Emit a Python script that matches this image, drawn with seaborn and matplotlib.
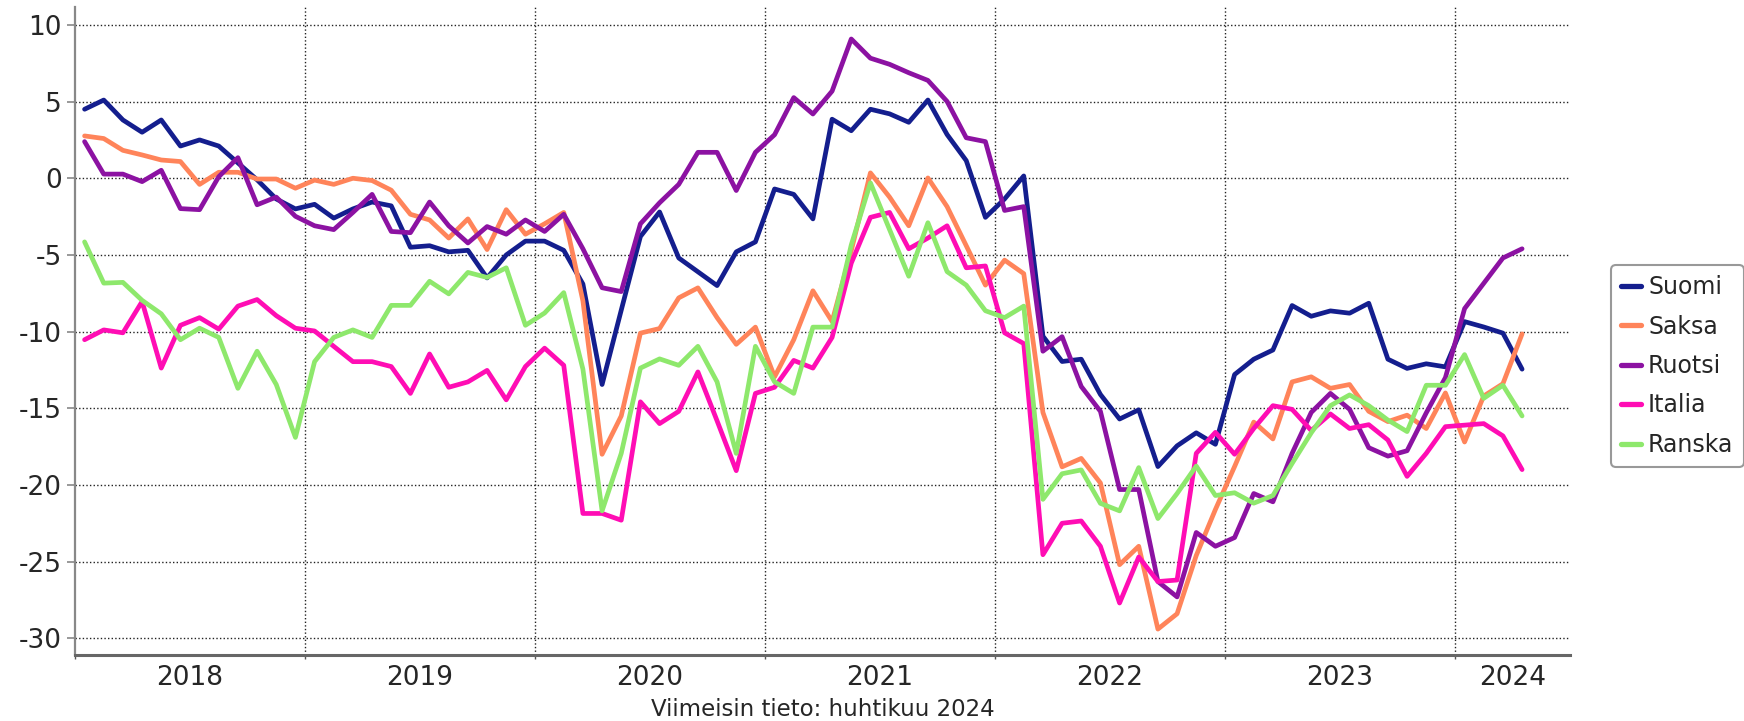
import numpy as np
import pandas as pd
import matplotlib
matplotlib.use("Agg")
import matplotlib.pyplot as plt
import seaborn as sns

# ---- data (monthly, Jan 2018 - Apr 2024) ----
start_month = "2018-01"
n_months = 76
countries = ["Suomi", "Saksa", "Ruotsi", "Italia", "Ranska"]

suomi = [4.5, 5.1, 3.8, 3.0, 3.8, 2.1, 2.5, 2.1, 1.0, -0.1, -1.35, -2.0,
         -1.7, -2.6, -2.0, -1.55, -1.8, -4.5, -4.4, -4.8, -4.7, -6.5, -5.0, -4.1,
         -4.1, -4.7, -6.9, -13.45, -8.6, -3.8, -2.2, -5.2, -6.1, -7.0, -4.8, -4.15,
         -0.7, -1.05, -2.65, 3.85, 3.1, 4.5, 4.2, 3.65, 5.1, 2.85, 1.15, -2.55,
         -1.35, 0.15, -10.3, -11.95, -11.8, -14.1, -15.7, -15.1, -18.8, -17.45, -16.6, -17.35,
         -12.8, -11.8, -11.2, -8.3, -9.0, -8.65, -8.8, -8.15, -11.8, -12.4, -12.1, -12.3,
         -9.35, -9.7, -10.1, -12.45]
saksa = [2.76, 2.59, 1.82, 1.52, 1.19, 1.09, -0.4, 0.39, 0.39, -0.05, -0.05, -0.65,
         -0.12, -0.4, 0.0, -0.15, -0.78, -2.35, -2.72, -3.9, -2.65, -4.65, -2.05, -3.65,
         -2.97, -2.23, -8.0, -18.0, -15.5, -10.1, -9.8, -7.8, -7.15, -9.09, -10.83, -9.71,
         -12.95, -10.53, -7.34, -9.34, -4.72, 0.35, -1.23, -3.1, 0.02, -1.85, -4.4, -6.97,
         -5.34, -6.22, -15.27, -18.82, -18.27, -19.87, -25.2, -24.0, -29.4, -28.4, -24.6, -21.6,
         -18.8, -15.9, -17.0, -13.28, -12.95, -13.7, -13.45, -15.2, -15.87, -15.45, -16.32, -14.0,
         -17.2, -14.2, -13.4, -10.15]
ruotsi = [2.39, 0.27, 0.27, -0.22, 0.52, -1.98, -2.05, 0.1, 1.34, -1.73, -1.23, -2.48,
          -3.1, -3.35, -2.23, -1.05, -3.47, -3.55, -1.55, -3.1, -4.22, -3.15, -3.65, -2.72,
          -3.47, -2.35, -4.6, -7.14, -7.39, -2.97, -1.6, -0.4, 1.69, 1.69, -0.8, 1.69,
          2.84, 5.26, 4.19, 5.68, 9.08, 7.83, 7.43, 6.88, 6.38, 5.01, 2.64, 2.39,
          -2.1, -1.85, -11.28, -10.33, -13.58, -15.2, -20.3, -20.3, -26.3, -27.3, -23.1, -24.0,
          -23.43, -20.56, -21.1, -17.94, -15.27, -14.03, -15.07, -17.57, -18.12, -17.77, -15.3, -13.0,
          -8.5, -6.85, -5.2, -4.6]
italia = [-10.53, -9.89, -10.08, -8.04, -12.38, -9.59, -9.09, -9.84, -8.34, -7.91, -8.96, -9.78,
          -9.96, -10.96, -11.96, -11.96, -12.28, -14.03, -11.46, -13.63, -13.28, -12.53, -14.45, -12.28,
          -11.08, -12.2, -21.86, -21.86, -22.3, -14.58, -16.0, -15.2, -12.63, -15.82, -19.07, -14.03,
          -13.63, -11.88, -12.38, -10.38, -5.54, -2.55, -2.23, -4.6, -3.9, -3.1, -5.84, -5.72,
          -10.08, -10.78, -24.55, -22.5, -22.35, -24.0, -27.7, -24.7, -26.3, -26.2, -17.94, -16.57,
          -18.0, -16.32, -14.83, -15.07, -16.45, -15.37, -16.32, -16.07, -17.07, -19.44, -17.94, -16.2,
          -16.1, -16.0, -16.8, -19.0]
ranska = [-4.15, -6.84, -6.79, -7.96, -8.84, -10.53, -9.78, -10.38, -13.7, -11.28, -13.45, -16.9,
          -11.96, -10.38, -9.89, -10.38, -8.29, -8.29, -6.72, -7.54, -6.14, -6.47, -5.84, -9.59,
          -8.79, -7.46, -12.45, -21.69, -17.94, -12.38, -11.78, -12.2, -10.96, -13.28, -17.94, -10.96,
          -13.28, -14.03, -9.71, -9.71, -4.35, -0.3, -3.35, -6.39, -2.9, -6.09, -6.97, -8.64,
          -9.09, -8.34, -20.94, -19.27, -19.02, -21.2, -21.69, -18.87, -22.19, -20.56, -18.77, -20.69,
          -20.51, -21.19, -20.69, -18.6, -16.6, -14.83, -14.13, -14.83, -15.77, -16.52, -13.5, -13.5,
          -11.5, -14.35, -13.5, -15.5]

year_labels = ["2018", "2019", "2020", "2021", "2022", "2023", "2024"]
y_ticks = [-30, -25, -20, -15, -10, -5, 0, 5, 10]
footer = "Viimeisin tieto: huhtikuu 2024"

colors = {"Suomi": "#141e8e", "Saksa": "#ff845a", "Ruotsi": "#8c12a2",
          "Italia": "#ff0db4", "Ranska": "#8ee86c"}

# ---- build long table ----
months = pd.period_range(start_month, periods=n_months, freq="M")
t = (months.year - 2018) * 12 + (months.month - 1) + 0.5
series = dict(zip(countries, [suomi, saksa, ruotsi, italia, ranska]))
df = pd.concat([pd.DataFrame({"t": t, "arvo": v, "maa": k}) for k, v in series.items()],
               ignore_index=True)

sns.set_style("white")
plt.rcParams["font.family"] = ["DejaVu Sans"]
plt.rcParams["axes.unicode_minus"] = False

fig = plt.figure(figsize=(17.44, 7.21), dpi=100)
ax = fig.add_axes([75 / 1744, 1 - 655 / 721, (1570 - 75) / 1744, (655 - 6.5) / 721])

sns.lineplot(data=df, x="t", y="arvo", hue="maa", hue_order=countries,
             palette=colors, linewidth=3.4, ax=ax, legend=True)

handles, labels = ax.get_legend_handles_labels()
ax.get_legend().remove()

ax.set_xlim(0, 78)
ax.set_ylim(-31.09, 11.2)
ax.set_xlabel("")
ax.set_ylabel("")

# grid
gkw = dict(color="#222222", linewidth=1.0, linestyle=(0, (1, 1.6)), zorder=0.5)
for yv in y_ticks:
    ax.axhline(yv, **gkw)
year_bounds = [12 * k for k in range(1, 7)]
for xv in year_bounds:
    ax.axvline(xv, **gkw)

# ticks
ax.set_yticks(y_ticks)
ax.set_yticklabels([str(v) for v in y_ticks])
ax.tick_params(axis="y", which="major", length=6, width=1.2, color="#888888",
               direction="out", pad=3.5, labelsize=19, left=True)
ax.set_xticks([0] + year_bounds)
ax.set_xticklabels([])
ax.tick_params(axis="x", which="major", length=3, width=1.0, color="#555555",
               direction="out", bottom=True)
centers = [6 + 12 * k for k in range(6)] + [75]
ax.set_xticks(centers, minor=True)
ax.set_xticklabels(year_labels, minor=True)
ax.tick_params(axis="x", which="minor", length=0, pad=7.5, labelsize=19)

for s in ["top", "right"]:
    ax.spines[s].set_visible(False)
ax.spines["left"].set_color("#888888")
ax.spines["left"].set_linewidth(1.6)
ax.spines["bottom"].set_color("#666666")
ax.spines["bottom"].set_linewidth(2.2)

leg = fig.legend(handles, labels, loc="upper left",
                 bbox_to_anchor=(1611 / 1744, 1 - 265 / 721),
                 fontsize=17, handlelength=0.85, handletextpad=0.28,
                 borderpad=0.44, labelspacing=0.65, frameon=True,
                 fancybox=True, edgecolor="#999999", framealpha=1,
                 borderaxespad=0)
leg.get_frame().set_linewidth(1.5)
for h in leg.legend_handles:
    h.set_linewidth(3.8)

fig.text(823 / 1744, 1 - 709.5 / 721, footer, ha="center", va="center", fontsize=16.5)

fig.savefig("out.png", dpi=100)
